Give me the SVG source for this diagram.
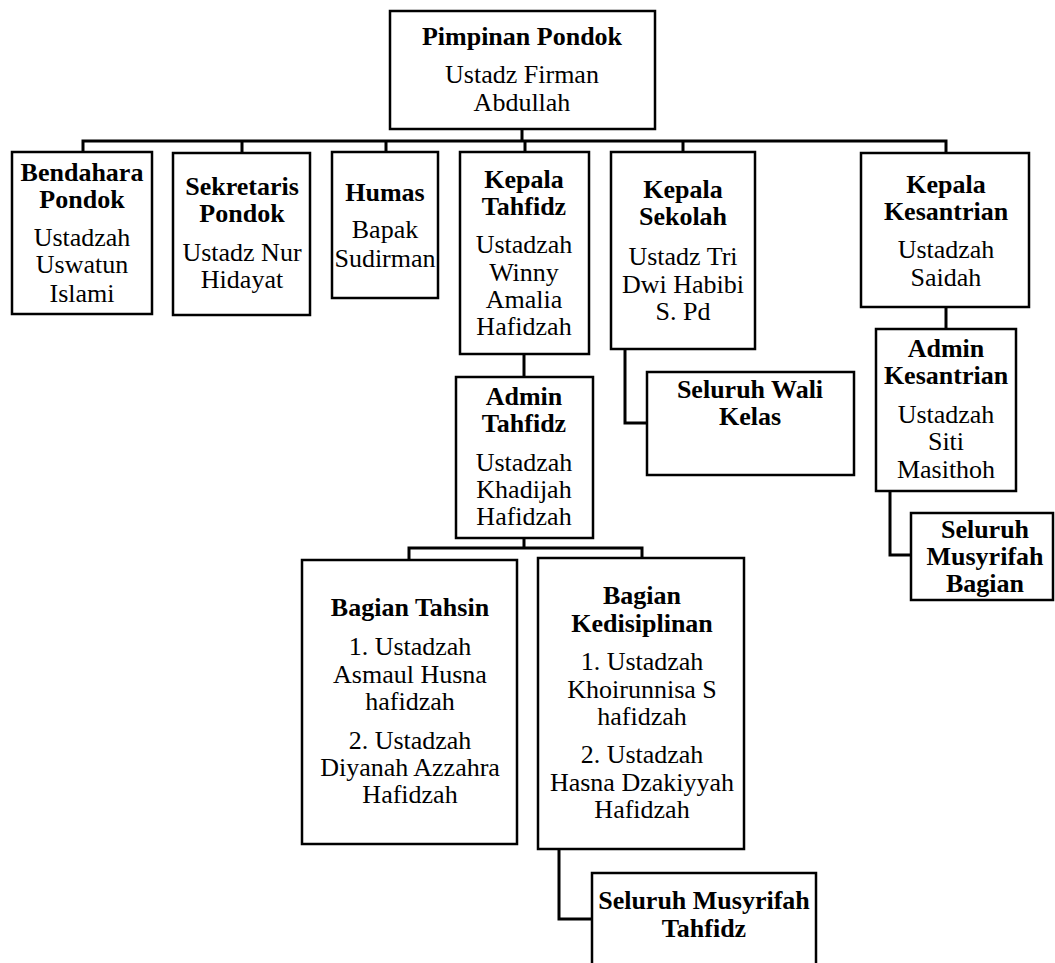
<svg xmlns="http://www.w3.org/2000/svg" width="1055" height="963" viewBox="0 0 1055 963">
<style>
.box{fill:#fff;stroke:#000;stroke-width:2.5}
.con{fill:none;stroke:#000;stroke-width:3}
text{font-family:"Liberation Serif","Times New Roman",serif;font-size:26px;text-anchor:middle;fill:#000}
.b{font-weight:bold}
</style>
<rect width="1055" height="963" fill="#fff"/>
<g id="connectors">
<path class="con" d="M522,129 V141 M83,152 V141 H946 V153 M242,141 V152 M386,141 V152 M525,141 V152 M683,141 V152"/>
<path class="con" d="M524,354 V377"/>
<path class="con" d="M625,349 V423 H647"/>
<path class="con" d="M946,307 V329"/>
<path class="con" d="M890,491 V555 H911"/>
<path class="con" d="M524,538 V548 M409,560 V548 H642 V558"/>
<path class="con" d="M559,849 V919 H592"/>
</g>
<g id="pimpinan">
<rect class="box" x="390" y="11" width="265" height="118"/>
<text class="b" x="522" y="45">Pimpinan Pondok</text>
<text x="522" y="83">Ustadz Firman</text>
<text x="522" y="111">Abdullah</text>
</g>
<g id="bendahara">
<rect class="box" x="12" y="152" width="140" height="162"/>
<text class="b" x="82" y="181">Bendahara</text>
<text class="b" x="82" y="208">Pondok</text>
<text x="82" y="246">Ustadzah</text>
<text x="82" y="273">Uswatun</text>
<text x="82" y="302">Islami</text>
</g>
<g id="sekretaris">
<rect class="box" x="173" y="153" width="137" height="162"/>
<text class="b" x="242" y="195">Sekretaris</text>
<text class="b" x="242" y="222">Pondok</text>
<text x="242" y="261">Ustadz Nur</text>
<text x="242" y="288">Hidayat</text>
</g>
<g id="humas">
<rect class="box" x="332" y="152" width="106" height="146"/>
<text class="b" x="385" y="201">Humas</text>
<text x="385" y="238">Bapak</text>
<text x="385" y="267">Sudirman</text>
</g>
<g id="kepala-tahfidz">
<rect class="box" x="460" y="152" width="129" height="202"/>
<text class="b" x="524" y="188">Kepala</text>
<text class="b" x="524" y="215">Tahfidz</text>
<text x="524" y="253">Ustadzah</text>
<text x="524" y="281">Winny</text>
<text x="524" y="308">Amalia</text>
<text x="524" y="335">Hafidzah</text>
</g>
<g id="kepala-sekolah">
<rect class="box" x="611" y="152" width="144" height="197"/>
<text class="b" x="683" y="198">Kepala</text>
<text class="b" x="683" y="225">Sekolah</text>
<text x="683" y="265">Ustadz Tri</text>
<text x="683" y="293">Dwi Habibi</text>
<text x="683" y="320">S. Pd</text>
</g>
<g id="kepala-kesantrian">
<rect class="box" x="861" y="153" width="168" height="154"/>
<text class="b" x="946" y="193">Kepala</text>
<text class="b" x="946" y="220">Kesantrian</text>
<text x="946" y="258">Ustadzah</text>
<text x="946" y="286">Saidah</text>
</g>
<g id="admin-tahfidz">
<rect class="box" x="456" y="377" width="137" height="161"/>
<text class="b" x="524" y="405">Admin</text>
<text class="b" x="524" y="432">Tahfidz</text>
<text x="524" y="471">Ustadzah</text>
<text x="524" y="498">Khadijah</text>
<text x="524" y="525">Hafidzah</text>
</g>
<g id="wali-kelas">
<rect class="box" x="647" y="372" width="207" height="103"/>
<text class="b" x="750" y="398">Seluruh Wali</text>
<text class="b" x="750" y="425">Kelas</text>
</g>
<g id="admin-kesantrian">
<rect class="box" x="876" y="329" width="140" height="162"/>
<text class="b" x="946" y="357">Admin</text>
<text class="b" x="946" y="384">Kesantrian</text>
<text x="946" y="423">Ustadzah</text>
<text x="946" y="450">Siti</text>
<text x="946" y="478">Masithoh</text>
</g>
<g id="musyrifah-bagian">
<rect class="box" x="911" y="513" width="142" height="87"/>
<text class="b" x="985" y="538">Seluruh</text>
<text class="b" x="985" y="565">Musyrifah</text>
<text class="b" x="985" y="592">Bagian</text>
</g>
<g id="bagian-tahsin">
<rect class="box" x="302" y="560" width="215" height="284"/>
<text class="b" x="410" y="616">Bagian Tahsin</text>
<text x="410" y="655">1. Ustadzah</text>
<text x="410" y="683">Asmaul Husna</text>
<text x="410" y="710">hafidzah</text>
<text x="410" y="749">2. Ustadzah</text>
<text x="410" y="776">Diyanah Azzahra</text>
<text x="410" y="803">Hafidzah</text>
</g>
<g id="bagian-kedisiplinan">
<rect class="box" x="538" y="558" width="206" height="291"/>
<text class="b" x="642" y="604">Bagian</text>
<text class="b" x="642" y="632">Kedisiplinan</text>
<text x="642" y="670">1. Ustadzah</text>
<text x="642" y="698">Khoirunnisa S</text>
<text x="642" y="725">hafidzah</text>
<text x="642" y="763">2. Ustadzah</text>
<text x="642" y="791">Hasna Dzakiyyah</text>
<text x="642" y="818">Hafidzah</text>
</g>
<g id="musyrifah-tahfidz">
<rect class="box" x="592" y="873" width="224" height="110"/>
<text class="b" x="704" y="909">Seluruh Musyrifah</text>
<text class="b" x="704" y="937">Tahfidz</text>
</g>
</svg>
